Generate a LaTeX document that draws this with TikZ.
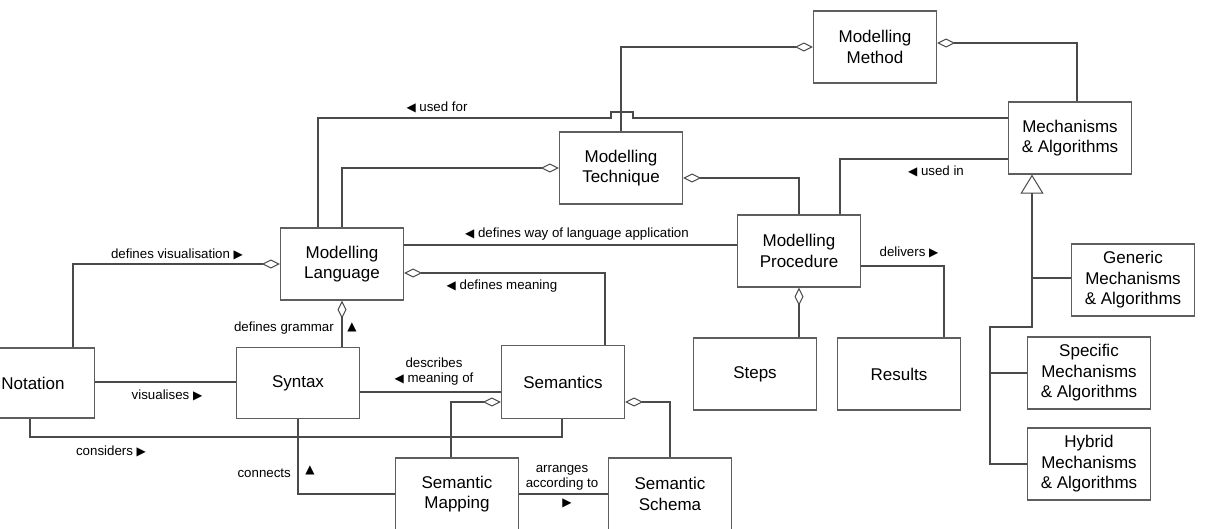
\documentclass[tikz,border=0pt]{standalone}
\usepackage{fontspec}
\setmainfont{Liberation Sans}
\newfontfamily\symfont{DejaVu Sans}
\usetikzlibrary{arrows.meta}
\definecolor{boxline}{HTML}{5E5E5E}
\definecolor{conline}{HTML}{4A4A4A}
\newcommand{\lft}{{\symfont\fontsize{12}{12}\selectfont ◀}}
\newcommand{\rgt}{{\symfont\fontsize{12}{12}\selectfont ▶}}
\newcommand{\upa}{{\symfont\fontsize{12}{12}\selectfont ▲}}
\begin{document}
\begin{tikzpicture}[x=1pt,y=-1pt,
  cls/.style={draw=boxline,line width=1.3pt,fill=white,minimum width=123pt,minimum height=72pt,
    align=center,inner sep=0pt,font=\fontsize{17}{20.5}\selectfont},
  con/.style={draw=conline,line width=1.1pt},
  agg/.style={con,{Diamond[open,length=18pt,width=9pt,line width=1pt]}-},
  gentip/.style={con,{Triangle[open,length=19pt,width=23pt,line width=1pt]}-},
  lbl/.style={font=\fontsize{13.3}{15}\selectfont,inner sep=0pt}]
\useasboundingbox (0,0) rectangle (1208,528);

% classes
\node[cls] (meth) at (875,47) {Modelling\\Method};
\node[cls] (tech) at (621,168) {Modelling\\Technique};
\node[cls] (mech) at (1070,138) {Mechanisms\\\& Algorithms};
\node[cls] (lang) at (342,264) {Modelling\\Language};
\node[cls] (proc) at (799,251) {Modelling\\Procedure};
\node[cls] (gen) at (1133,280) {Generic\\Mechanisms\\\& Algorithms};
\node[cls,minimum height=70pt] (nota) at (33,383) {Notation};
\node[cls,minimum height=71pt] (syn) at (298,383) {Syntax};
\node[cls,minimum height=73pt] (sem) at (563,382) {Semantics};
\node[cls] (steps) at (755,374) {Steps};
\node[cls] (res) at (899,374) {Results};
\node[cls] (spec) at (1089,373) {Specific\\Mechanisms\\\& Algorithms};
\node[cls] (hyb) at (1089,464) {Hybrid\\Mechanisms\\\& Algorithms};
\node[cls] (map) at (457,494) {Semantic\\Mapping};
\node[cls] (sch) at (670,494) {Semantic\\Schema};

% method composition
\draw[agg] (meth.west |- 0,47) -| (tech.north);
\draw[agg] (meth.east |- 0,43) -| (mech.north -| 1077,0);

% used for (with a jump over the method line)
\draw[con] (mech.west |- 0,118) -- (633,118) -- (633,112) -- (611,112) -- (611,118) -| (lang.north -| 318,0);
\node[lbl] (l1) at (437,107) {\lft\ used for};

% technique composition
\draw[agg] (tech.west) -| (lang.north);
\draw[agg] (tech.east |- 0,178) -| (proc.north);

% used in
\draw[con] (mech.west |- 0,159) -| (proc.north -| 840,0);
\node[lbl] (l2) at (936,171) {\lft\ used in};

% language application
\draw[con] (lang.east |- 0,245) -- (proc.west |- 0,245);
\node[lbl] (l3) at (577,234) {\lft\ defines way of language application};

% delivers
\draw[con] (proc.east |- 0,266) -| (res.north -| 944,0);
\node[lbl] (l4) at (909,252) {delivers \rgt};
\draw[agg] (proc.south) -- (steps.north -| proc.south);

% generalisation of mechanisms
\draw[gentip] (mech.south -| 1032,0) -- (1032,327) -- (990,327) |- (hyb.west);
\draw[con] (1032,278) -- (gen.west |- 0,278);
\draw[con] (990,373) -- (spec.west);

% language composition
\draw[agg] (lang.west) -| (nota.north -| 73,0);
\node[lbl] (l5) at (177,254) {defines visualisation \rgt};
\draw[agg] (lang.east |- 0,273) -| (sem.north -| 605,0);
\node[lbl] (l6) at (502,286) {\lft\ defines meaning};
\draw[agg] (lang.south) -- (syn.north -| lang.south);
\node[lbl,anchor=east] (l7) at (334,328) {defines grammar};
\node[lbl] (l7a) at (352,327) {\upa};

% notation and syntax
\draw[con] (nota.east |- 0,382) -- (syn.west |- 0,382);
\node[lbl] (l8) at (167,395) {visualises \rgt};
\draw[con] (syn.east |- 0,392) -- (sem.west |- 0,392);
\node[lbl,align=center] (l9) at (434,372) {describes\\\lft\ meaning of};

% considers
\draw[con] (nota.south -| 30,0) |- (562,437) -- (sem.south -| 562,0);
\node[lbl] (l10) at (111,451) {considers \rgt};

% semantics composition
\draw[agg] (sem.west |- 0,402) -| (map.north -| 451,0);
\draw[agg] (sem.east |- 0,402) -| (sch.north -| 670,0);

% connects
\draw[con] (map.west |- 0,494) -| (syn.south);
\node[lbl,anchor=east] (l11) at (291,473) {connects};
\node[lbl] (l11a) at (310,470) {\upa};

% arranges according to
\draw[con] (map.east |- 0,494) -- (sch.west |- 0,494);
\node[lbl,align=center] (l12) at (562,478) {arranges\\according to};
\node[lbl] (l12a) at (567,503) {\rgt};
\end{tikzpicture}
\end{document}
